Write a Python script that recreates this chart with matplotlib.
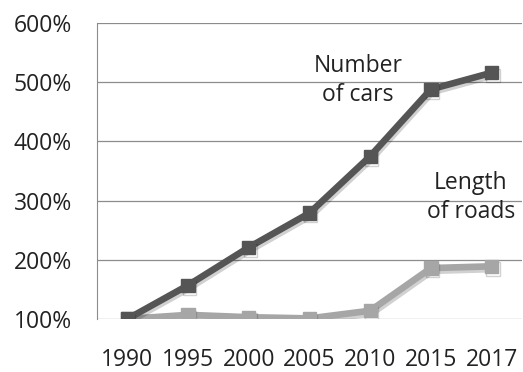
import matplotlib
matplotlib.use("Agg")
import matplotlib.pyplot as plt
import matplotlib.patheffects as pe
from matplotlib.ticker import FuncFormatter

years = ["1990", "1995", "2000", "2005", "2010", "2015", "2017"]
cars = [100, 157, 221, 279, 375, 488, 516]
roads = [100, 107, 103, 101, 114, 186, 189]

plt.rcParams["font.family"] = ["Open Sans", "DejaVu Sans"]

fig = plt.figure(figsize=(5.23, 3.72), dpi=100)
ax = fig.add_axes([97 / 523, 1 - 319 / 372, 425 / 523, 296 / 372])

x = range(len(years))
shadow = [pe.SimpleLineShadow(offset=(1, -2), shadow_color="black", alpha=0.18), pe.Normal()]
ax.plot(x, roads, color="#a6a6a6", lw=4.8, marker="s", ms=9.5, zorder=3,
        path_effects=shadow)
ax.plot(x, cars, color="#555555", lw=4.8, marker="s", ms=9.5, zorder=4,
        path_effects=shadow)

ax.set_xlim(-0.5, len(years) - 0.5)
ax.set_ylim(100, 600)
ax.set_yticks(range(100, 601, 100))
ax.yaxis.set_major_formatter(FuncFormatter(lambda v, p: f"{v:.0f}%"))
ax.set_xticks(list(x))
ax.set_xticklabels(years)
ax.grid(axis="y", color="#8c8c8c", lw=0.9)
ax.set_axisbelow(True)
for s in ["top", "right", "bottom"]:
    ax.spines[s].set_visible(False)
ax.spines["left"].set_color("#8c8c8c")
ax.tick_params(length=0, labelsize=16.5, colors="#222222")
ax.tick_params(axis="y", pad=18)
ax.tick_params(axis="x", pad=21)

ax.text(3.8, 503, "Number\nof cars", ha="center", va="center", fontsize=16.5,
        color="#222222", linespacing=1.3)
ax.text(5.66, 305, "Length\nof roads", ha="center", va="center", fontsize=16.5,
        color="#222222", linespacing=1.3)

fig.savefig("out.png", dpi=100)
